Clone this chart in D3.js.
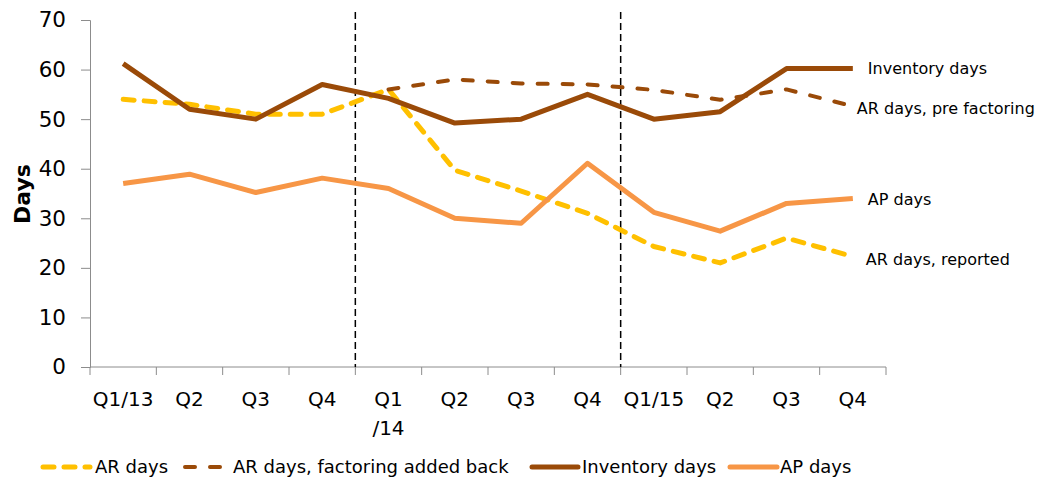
<!DOCTYPE html>
<html>
<head>
<meta charset="utf-8">
<script src="https://cdn.jsdelivr.net/npm/d3@7"></script>
<style>
  body { margin: 0; background: #fff; }
  text { font-family: "DejaVu Sans", Verdana, sans-serif; }
</style>
</head>
<body>
<div id="main"></div>
<script>
const W = 1038;
const H = 480;

// quarters (keys) and their axis labels
var quarters = ["Q1/13","Q2/13","Q3/13","Q4/13","Q1/14","Q2/14","Q3/14","Q4/14","Q1/15","Q2/15","Q3/15","Q4/15"];
var quarterLabels = [["Q1/13"],["Q2"],["Q3"],["Q4"],["Q1","/14"],["Q2"],["Q3"],["Q4"],["Q1/15"],["Q2"],["Q3"],["Q4"]];
var yearBreaks = ["Q1/14","Q1/15"];
var yTicks = [0,10,20,30,40,50,60,70];

// series values (null = no point)
var arDays       = [54, 53, 51, 51, 56, 39.7, 35.5, 31, 24.3, 21, 26, 22.3];
var arFactoring  = [null, null, null, null, 56, 58, 57.2, 57, 55.9, 53.9, 56, 52.6];
var inventoryDays = [61.2, 52, 50, 57, 54.2, 49.2, 50, 55, 50, 51.5, 60.2, 60.2];
var apDays       = [37, 38.9, 35.2, 38.1, 36, 30, 29, 41.1, 31.2, 27.4, 33, 34];

var ctx = {
    yellow: "#FFC000",
    brown: "#9A4A08",
    orange: "#F79646",
    axis: "#8C8C8C",
};

var series = [
    {name: "AR days", label: "AR days, reported", values: arDays, color: ctx.yellow, width: 5, dash: "11,10", dx: 13, dy: 3},
    {name: "AR days, factoring added back", label: "AR days, pre factoring", values: arFactoring, color: ctx.brown, width: 4, dash: "10,15", dx: 4, dy: 2},
    {name: "Inventory days", label: "Inventory days", values: inventoryDays, color: ctx.brown, width: 5, dash: null, dx: 15, dy: 0},
    {name: "AP days", label: "AP days", values: apDays, color: ctx.orange, width: 5, dash: null, dx: 15, dy: 1},
];

var createViz = function(){
    var svg = d3.select("#main").append("svg")
        .attr("width", W)
        .attr("height", H);

    var x = d3.scaleBand().domain(quarters).range([90, 886]);
    var y = d3.scaleLinear().domain([0, 70]).range([367, 20]);
    var cx = function(d){ return x(d) + x.bandwidth() / 2; };

    // y axis
    var yAxis = svg.append("g")
        .attr("transform", "translate(90,0)")
        .call(d3.axisLeft(y).tickValues(yTicks).tickSize(9).tickPadding(15));
    yAxis.select(".domain").attr("stroke", ctx.axis);
    yAxis.selectAll(".tick line").attr("stroke", ctx.axis);
    yAxis.selectAll(".tick text")
        .attr("fill", "#000")
        .style("font-size", "21.5px");

    svg.append("text")
        .attr("transform", "translate(30,194) rotate(-90)")
        .attr("text-anchor", "middle")
        .style("font-size", "22px")
        .style("font-weight", "bold")
        .text("Days");

    // x axis: line + ticks at band boundaries
    var xg = svg.append("g");
    xg.append("line")
        .attr("x1", x.range()[0]).attr("x2", x.range()[1])
        .attr("y1", y(0)).attr("y2", y(0))
        .attr("stroke", ctx.axis);
    var bounds = quarters.map(function(q){ return x(q); }).concat([x.range()[1]]);
    xg.selectAll("line.tick").data(bounds).enter().append("line")
        .attr("class", "tick")
        .attr("x1", function(d){ return d; }).attr("x2", function(d){ return d; })
        .attr("y1", y(0)).attr("y2", y(0) + 8)
        .attr("stroke", ctx.axis);
    var lbl = xg.selectAll("text.ql").data(quarters).enter().append("text")
        .attr("class", "ql")
        .attr("text-anchor", "middle")
        .attr("x", cx)
        .attr("y", y(0) + 39)
        .style("font-size", "20px");
    lbl.selectAll("tspan").data(function(d, i){ return quarterLabels[i]; }).enter().append("tspan")
        .attr("x", function(){ return cx(d3.select(this.parentNode).datum()); })
        .attr("dy", function(d, i){ return i === 0 ? 0 : 29; })
        .text(function(d){ return d; });

    // year separators
    svg.selectAll("line.sep").data(yearBreaks).enter().append("line")
        .attr("class", "sep")
        .attr("x1", function(d){ return x(d); }).attr("x2", function(d){ return x(d); })
        .attr("y1", 12).attr("y2", y(0))
        .attr("stroke", "#000")
        .attr("stroke-width", 1.5)
        .attr("stroke-dasharray", "7,4");

    // lines
    var line = d3.line()
        .defined(function(d){ return d[1] !== null; })
        .x(function(d){ return cx(d[0]); })
        .y(function(d){ return y(d[1]); });

    series.forEach(function(s){
        var pts = quarters.map(function(q, i){ return [q, s.values[i]]; });
        svg.append("path")
            .datum(pts)
            .attr("d", line)
            .attr("fill", "none")
            .attr("stroke", s.color)
            .attr("stroke-width", s.width)
            .attr("stroke-linecap", s.dash ? "round" : "butt")
            .attr("stroke-linejoin", "round")
            .attr("stroke-dasharray", s.dash);

        var last = pts[pts.length - 1];
        svg.append("text")
            .attr("x", cx(last[0]) + s.dx)
            .attr("y", y(last[1]) + s.dy)
            .attr("dy", "0.35em")
            .style("font-size", "16px")
            .text(s.label);
    });

    // legend
    var legendX = [[43, 90, 95], [185, 225, 233], [532, 578, 582], [730, 777, 780]];
    var lg = svg.append("g");
    series.forEach(function(s, i){
        var p = legendX[i];
        lg.append("line")
            .attr("x1", p[0]).attr("x2", p[1])
            .attr("y1", 467).attr("y2", 467)
            .attr("stroke", s.color)
            .attr("stroke-width", s.width)
            .attr("stroke-linecap", "round")
            .attr("stroke-dasharray", s.dash);
        lg.append("text")
            .attr("x", p[2])
            .attr("y", 467)
            .attr("dy", "0.35em")
            .style("font-size", "18px")
            .text(s.name);
    });
};

createViz();
</script>
</body>
</html>
